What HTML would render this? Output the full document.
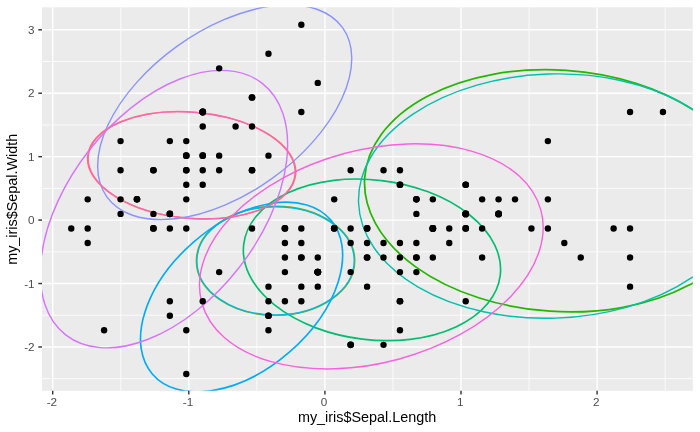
<!DOCTYPE html>
<html><head><meta charset="utf-8"><title>plot</title>
<style>
html,body{margin:0;padding:0;background:#fff;}
body{width:700px;height:432px;overflow:hidden;font-family:"Liberation Sans",sans-serif;}
svg{display:block;}
text{font-family:"Liberation Sans",sans-serif;}
.txt{filter:grayscale(1);}
.tk{font-size:11.73px;fill:#4D4D4D;}
.ti{font-size:14.67px;fill:#000;}
</style></head><body>
<svg width="700" height="432" viewBox="0 0 700 432">
<rect x="0" y="0" width="700" height="432" fill="#FFFFFF"/>
<defs><clipPath id="pc"><rect x="42.0" y="7.3" width="650.75" height="383.55"/></clipPath></defs>
<rect x="42.0" y="7.3" width="650.75" height="383.55" fill="#EBEBEB"/>
<g clip-path="url(#pc)">
<g stroke="#FFFFFF" stroke-width="0.8" fill="none">
<line x1="120.75" y1="7.3" x2="120.75" y2="390.85"/>
<line x1="256.85" y1="7.3" x2="256.85" y2="390.85"/>
<line x1="392.95" y1="7.3" x2="392.95" y2="390.85"/>
<line x1="529.05" y1="7.3" x2="529.05" y2="390.85"/>
<line x1="665.15" y1="7.3" x2="665.15" y2="390.85"/>
<line x1="42.0" y1="378.66" x2="692.75" y2="378.66"/>
<line x1="42.0" y1="315.24" x2="692.75" y2="315.24"/>
<line x1="42.0" y1="251.81" x2="692.75" y2="251.81"/>
<line x1="42.0" y1="188.38" x2="692.75" y2="188.38"/>
<line x1="42.0" y1="124.95" x2="692.75" y2="124.95"/>
<line x1="42.0" y1="61.52" x2="692.75" y2="61.52"/>
</g>
<g stroke="#FFFFFF" stroke-width="1.42" fill="none">
<line x1="52.70" y1="7.3" x2="52.70" y2="390.85"/>
<line x1="188.80" y1="7.3" x2="188.80" y2="390.85"/>
<line x1="324.90" y1="7.3" x2="324.90" y2="390.85"/>
<line x1="461.00" y1="7.3" x2="461.00" y2="390.85"/>
<line x1="597.10" y1="7.3" x2="597.10" y2="390.85"/>
<line x1="42.0" y1="346.95" x2="692.75" y2="346.95"/>
<line x1="42.0" y1="283.52" x2="692.75" y2="283.52"/>
<line x1="42.0" y1="220.09" x2="692.75" y2="220.09"/>
<line x1="42.0" y1="156.66" x2="692.75" y2="156.66"/>
<line x1="42.0" y1="93.23" x2="692.75" y2="93.23"/>
<line x1="42.0" y1="29.80" x2="692.75" y2="29.80"/>
</g>
<g fill="none" stroke-width="1.42" stroke-linejoin="round">
<ellipse cx="191.66" cy="165.28" rx="104.48" ry="53.13" transform="rotate(-175.08 191.66 165.28)" stroke="#F8766D" stroke-width="1.42"/>
<ellipse cx="275.56" cy="260.85" rx="79.21" ry="54.52" transform="rotate(179.75 275.56 260.85)" stroke="#8CAB00" stroke-width="1.42"/>
<ellipse cx="558.03" cy="190.80" rx="193.78" ry="120.71" transform="rotate(-176.18 558.03 190.80)" stroke="#24B700" stroke-width="1.75"/>
<ellipse cx="371.97" cy="259.86" rx="129.20" ry="79.88" transform="rotate(-173.10 371.97 259.86)" stroke="#00BE70" stroke-width="1.65"/>
<ellipse cx="551.96" cy="196.11" rx="193.53" ry="122.10" transform="rotate(178.02 551.96 196.11)" stroke="#00C1AB" stroke-width="1.42"/>
<ellipse cx="275.56" cy="260.85" rx="78.66" ry="54.07" transform="rotate(179.75 275.56 260.85)" stroke="#00BBDA" stroke-width="1.35"/>
<ellipse cx="241.57" cy="297.03" rx="117.84" ry="72.96" transform="rotate(139.11 241.57 297.03)" stroke="#00ACFC" stroke-width="1.65"/>
<ellipse cx="224.70" cy="112.25" rx="145.07" ry="81.41" transform="rotate(144.34 224.70 112.25)" stroke="#8B93FF" stroke-width="1.42"/>
<ellipse cx="163.97" cy="209.14" rx="159.61" ry="95.20" transform="rotate(128.02 163.97 209.14)" stroke="#D575FE" stroke-width="1.42"/>
<ellipse cx="371.32" cy="256.38" rx="175.75" ry="106.35" transform="rotate(164.72 371.32 256.38)" stroke="#F962DD" stroke-width="1.42"/>
<ellipse cx="191.66" cy="165.28" rx="103.73" ry="52.98" transform="rotate(-175.08 191.66 165.28)" stroke="#FF65AC" stroke-width="1.3"/>
</g>
<g fill="#000000">
<circle cx="202.73" cy="155.67" r="3.32"/>
<circle cx="169.85" cy="228.43" r="3.20"/>
<circle cx="136.98" cy="199.33" r="3.32"/>
<circle cx="120.55" cy="213.88" r="3.20"/>
<circle cx="186.29" cy="141.12" r="3.20"/>
<circle cx="252.03" cy="97.46" r="3.32"/>
<circle cx="120.55" cy="170.22" r="3.20"/>
<circle cx="186.29" cy="170.22" r="3.32"/>
<circle cx="87.68" cy="242.99" r="3.20"/>
<circle cx="169.85" cy="213.88" r="3.32"/>
<circle cx="252.03" cy="126.57" r="3.20"/>
<circle cx="153.42" cy="170.22" r="3.32"/>
<circle cx="153.42" cy="228.43" r="3.32"/>
<circle cx="71.24" cy="228.43" r="3.20"/>
<circle cx="317.78" cy="82.91" r="3.20"/>
<circle cx="301.34" cy="24.70" r="3.20"/>
<circle cx="252.03" cy="97.46" r="3.32"/>
<circle cx="202.73" cy="155.67" r="3.32"/>
<circle cx="301.34" cy="112.01" r="3.20"/>
<circle cx="202.73" cy="112.01" r="3.40"/>
<circle cx="252.03" cy="170.22" r="3.32"/>
<circle cx="202.73" cy="126.57" r="3.20"/>
<circle cx="120.55" cy="141.12" r="3.20"/>
<circle cx="202.73" cy="184.78" r="3.20"/>
<circle cx="153.42" cy="170.22" r="3.32"/>
<circle cx="186.29" cy="228.43" r="3.20"/>
<circle cx="186.29" cy="170.22" r="3.32"/>
<circle cx="219.16" cy="155.67" r="3.20"/>
<circle cx="219.16" cy="170.22" r="3.20"/>
<circle cx="136.98" cy="199.33" r="3.32"/>
<circle cx="153.42" cy="213.88" r="3.20"/>
<circle cx="252.03" cy="170.22" r="3.32"/>
<circle cx="219.16" cy="68.35" r="3.20"/>
<circle cx="268.47" cy="53.80" r="3.20"/>
<circle cx="169.85" cy="213.88" r="3.32"/>
<circle cx="186.29" cy="199.33" r="3.20"/>
<circle cx="268.47" cy="155.67" r="3.20"/>
<circle cx="169.85" cy="141.12" r="3.20"/>
<circle cx="87.68" cy="228.43" r="3.20"/>
<circle cx="202.73" cy="170.22" r="3.20"/>
<circle cx="186.29" cy="155.67" r="3.32"/>
<circle cx="104.11" cy="330.30" r="3.20"/>
<circle cx="87.68" cy="199.33" r="3.20"/>
<circle cx="186.29" cy="155.67" r="3.32"/>
<circle cx="202.73" cy="112.01" r="3.40"/>
<circle cx="153.42" cy="228.43" r="3.32"/>
<circle cx="202.73" cy="112.01" r="3.40"/>
<circle cx="120.55" cy="199.33" r="3.20"/>
<circle cx="235.60" cy="126.57" r="3.20"/>
<circle cx="186.29" cy="184.78" r="3.20"/>
<circle cx="515.01" cy="199.33" r="3.20"/>
<circle cx="416.39" cy="199.33" r="3.32"/>
<circle cx="498.57" cy="213.88" r="3.40"/>
<circle cx="268.47" cy="330.30" r="3.20"/>
<circle cx="432.83" cy="257.54" r="3.20"/>
<circle cx="301.34" cy="257.54" r="3.32"/>
<circle cx="399.96" cy="184.78" r="3.32"/>
<circle cx="169.85" cy="315.75" r="3.20"/>
<circle cx="449.26" cy="242.99" r="3.20"/>
<circle cx="219.16" cy="272.09" r="3.20"/>
<circle cx="186.29" cy="373.96" r="3.20"/>
<circle cx="334.21" cy="228.43" r="3.32"/>
<circle cx="350.65" cy="344.85" r="3.32"/>
<circle cx="367.09" cy="242.99" r="3.20"/>
<circle cx="284.91" cy="242.99" r="3.20"/>
<circle cx="465.70" cy="213.88" r="3.40"/>
<circle cx="284.91" cy="228.43" r="3.32"/>
<circle cx="317.78" cy="272.09" r="3.45"/>
<circle cx="383.52" cy="344.85" r="3.20"/>
<circle cx="284.91" cy="301.20" r="3.20"/>
<circle cx="334.21" cy="199.33" r="3.20"/>
<circle cx="367.09" cy="257.54" r="3.32"/>
<circle cx="399.96" cy="301.20" r="3.32"/>
<circle cx="367.09" cy="257.54" r="3.32"/>
<circle cx="416.39" cy="242.99" r="3.20"/>
<circle cx="449.26" cy="228.43" r="3.20"/>
<circle cx="482.14" cy="257.54" r="3.20"/>
<circle cx="465.70" cy="228.43" r="3.32"/>
<circle cx="350.65" cy="242.99" r="3.20"/>
<circle cx="301.34" cy="286.64" r="3.20"/>
<circle cx="268.47" cy="315.75" r="3.32"/>
<circle cx="268.47" cy="315.75" r="3.32"/>
<circle cx="317.78" cy="272.09" r="3.45"/>
<circle cx="350.65" cy="272.09" r="3.20"/>
<circle cx="252.03" cy="228.43" r="3.20"/>
<circle cx="350.65" cy="170.22" r="3.20"/>
<circle cx="465.70" cy="213.88" r="3.40"/>
<circle cx="399.96" cy="330.30" r="3.20"/>
<circle cx="284.91" cy="228.43" r="3.32"/>
<circle cx="268.47" cy="301.20" r="3.20"/>
<circle cx="268.47" cy="286.64" r="3.20"/>
<circle cx="367.09" cy="228.43" r="3.32"/>
<circle cx="317.78" cy="286.64" r="3.20"/>
<circle cx="186.29" cy="330.30" r="3.20"/>
<circle cx="284.91" cy="272.09" r="3.20"/>
<circle cx="301.34" cy="228.43" r="3.20"/>
<circle cx="301.34" cy="242.99" r="3.20"/>
<circle cx="383.52" cy="242.99" r="3.20"/>
<circle cx="202.73" cy="301.20" r="3.20"/>
<circle cx="301.34" cy="257.54" r="3.32"/>
<circle cx="399.96" cy="184.78" r="3.32"/>
<circle cx="317.78" cy="272.09" r="3.45"/>
<circle cx="531.44" cy="228.43" r="3.20"/>
<circle cx="399.96" cy="242.99" r="3.20"/>
<circle cx="432.83" cy="228.43" r="3.40"/>
<circle cx="613.62" cy="228.43" r="3.20"/>
<circle cx="169.85" cy="301.20" r="3.20"/>
<circle cx="564.32" cy="242.99" r="3.20"/>
<circle cx="465.70" cy="301.20" r="3.20"/>
<circle cx="547.88" cy="141.12" r="3.20"/>
<circle cx="432.83" cy="199.33" r="3.20"/>
<circle cx="416.39" cy="272.09" r="3.20"/>
<circle cx="482.14" cy="228.43" r="3.20"/>
<circle cx="301.34" cy="301.20" r="3.20"/>
<circle cx="317.78" cy="257.54" r="3.20"/>
<circle cx="416.39" cy="199.33" r="3.32"/>
<circle cx="432.83" cy="228.43" r="3.40"/>
<circle cx="630.06" cy="112.01" r="3.20"/>
<circle cx="630.06" cy="286.64" r="3.20"/>
<circle cx="350.65" cy="344.85" r="3.32"/>
<circle cx="498.57" cy="199.33" r="3.20"/>
<circle cx="284.91" cy="257.54" r="3.20"/>
<circle cx="630.06" cy="257.54" r="3.20"/>
<circle cx="399.96" cy="272.09" r="3.20"/>
<circle cx="465.70" cy="184.78" r="3.32"/>
<circle cx="547.88" cy="199.33" r="3.20"/>
<circle cx="383.52" cy="257.54" r="3.20"/>
<circle cx="367.09" cy="228.43" r="3.32"/>
<circle cx="416.39" cy="257.54" r="3.32"/>
<circle cx="547.88" cy="228.43" r="3.20"/>
<circle cx="580.75" cy="257.54" r="3.20"/>
<circle cx="662.93" cy="112.01" r="3.20"/>
<circle cx="416.39" cy="257.54" r="3.32"/>
<circle cx="399.96" cy="257.54" r="3.20"/>
<circle cx="367.09" cy="286.64" r="3.20"/>
<circle cx="630.06" cy="228.43" r="3.20"/>
<circle cx="399.96" cy="170.22" r="3.20"/>
<circle cx="416.39" cy="213.88" r="3.20"/>
<circle cx="350.65" cy="228.43" r="3.20"/>
<circle cx="498.57" cy="213.88" r="3.40"/>
<circle cx="465.70" cy="213.88" r="3.40"/>
<circle cx="498.57" cy="213.88" r="3.40"/>
<circle cx="317.78" cy="272.09" r="3.45"/>
<circle cx="482.14" cy="199.33" r="3.20"/>
<circle cx="465.70" cy="184.78" r="3.32"/>
<circle cx="465.70" cy="228.43" r="3.32"/>
<circle cx="399.96" cy="301.20" r="3.32"/>
<circle cx="432.83" cy="228.43" r="3.40"/>
<circle cx="383.52" cy="170.22" r="3.20"/>
<circle cx="334.21" cy="228.43" r="3.32"/>
</g>
</g>
<g stroke="#333333" stroke-width="1.42" fill="none">
<line x1="52.70" y1="390.85" x2="52.70" y2="394.52"/>
<line x1="188.80" y1="390.85" x2="188.80" y2="394.52"/>
<line x1="324.90" y1="390.85" x2="324.90" y2="394.52"/>
<line x1="461.00" y1="390.85" x2="461.00" y2="394.52"/>
<line x1="597.10" y1="390.85" x2="597.10" y2="394.52"/>
<line x1="38.33" y1="346.95" x2="42.0" y2="346.95"/>
<line x1="38.33" y1="283.52" x2="42.0" y2="283.52"/>
<line x1="38.33" y1="220.09" x2="42.0" y2="220.09"/>
<line x1="38.33" y1="156.66" x2="42.0" y2="156.66"/>
<line x1="38.33" y1="93.23" x2="42.0" y2="93.23"/>
<line x1="38.33" y1="29.80" x2="42.0" y2="29.80"/>
</g>
<g class="txt">
<text class="tk" x="51.90" y="406.2" text-anchor="middle">-2</text>
<text class="tk" x="188.00" y="406.2" text-anchor="middle">-1</text>
<text class="tk" x="324.10" y="406.2" text-anchor="middle">0</text>
<text class="tk" x="460.20" y="406.2" text-anchor="middle">1</text>
<text class="tk" x="596.30" y="406.2" text-anchor="middle">2</text>
<text class="tk" x="34.6" y="351.15" text-anchor="end">-2</text>
<text class="tk" x="34.6" y="287.72" text-anchor="end">-1</text>
<text class="tk" x="34.6" y="224.29" text-anchor="end">0</text>
<text class="tk" x="34.6" y="160.86" text-anchor="end">1</text>
<text class="tk" x="34.6" y="97.43" text-anchor="end">2</text>
<text class="tk" x="34.6" y="34.00" text-anchor="end">3</text>
<text class="ti" transform="translate(367.1,422) scale(0.982,1)" text-anchor="middle">my_iris$Sepal.Length</text>
<text class="ti" transform="translate(17.3,199.3) rotate(-90) scale(0.982,1)" text-anchor="middle">my_iris$Sepal.Width</text>
</g>
</svg>
</body></html>
